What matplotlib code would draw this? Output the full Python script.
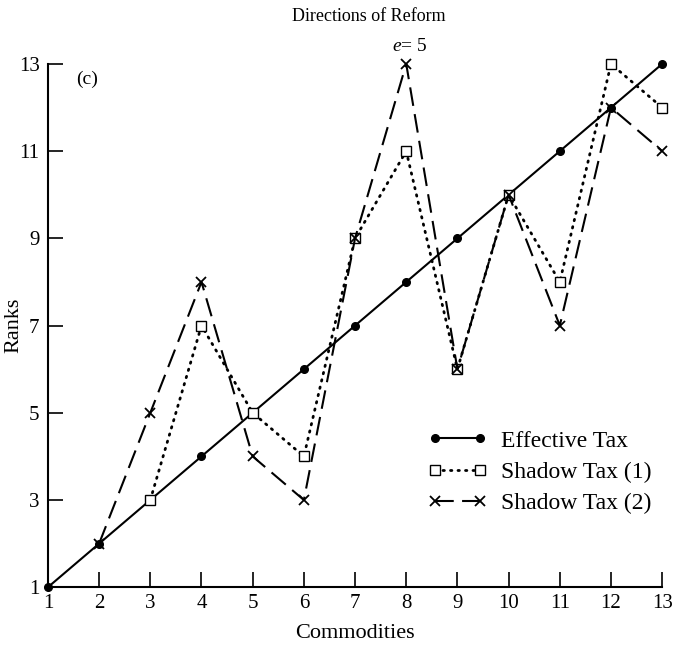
import matplotlib
matplotlib.use("Agg")
import matplotlib.pyplot as plt

commodities = list(range(1, 14))
effective_x = list(range(1, 14))
effective_tax = [1, 2, 3, 4, 5, 6, 7, 8, 9, 10, 11, 12, 13]
shadow1_x = [3, 4, 5, 6, 7, 8, 9, 10, 11, 12, 13]
shadow_tax_1 = [3, 7, 5, 4, 9, 11, 6, 10, 8, 13, 12]
shadow2_x = [2, 3, 4, 5, 6, 7, 8, 9, 10, 11, 12, 13]
shadow_tax_2 = [2, 5, 8, 4, 3, 9, 13, 6, 10, 7, 12, 11]
xticks = list(range(1, 14))
yticks = [1, 3, 5, 7, 9, 11, 13]

plt.rcParams['font.family'] = ['Liberation Serif', 'DejaVu Serif']
plt.rcParams['mathtext.fontset'] = 'custom'
plt.rcParams['mathtext.it'] = 'Liberation Serif:italic'
plt.rcParams['mathtext.rm'] = 'Liberation Serif'

fig = plt.figure(figsize=(6.75, 6.46), dpi=100)
ax = fig.add_axes([0.071, 0.091, 0.91, 0.81])

ax.plot(effective_x, effective_tax, color='black', lw=1.5, marker='o', ms=5.5,
        label='Effective Tax', clip_on=False, zorder=3)
ax.plot(shadow1_x, shadow_tax_1, color='black', lw=2.0, linestyle=(0, (0.5, 2.2)),
        dash_capstyle='round', marker='s', ms=7, mfc='white', mec='black', mew=1.0,
        label='Shadow Tax (1)', clip_on=False, zorder=4)
ax.plot(shadow2_x, shadow_tax_2, color='black', lw=1.5, linestyle=(0, (9, 4)),
        marker='x', ms=7, mew=1.3, label='Shadow Tax (2)', clip_on=False, zorder=5)

ax.set_xlim(1, 13)
ax.set_ylim(1, 13)
ax.set_xticks(xticks)
ax.set_yticks(yticks)
ax.spines['top'].set_visible(False)
ax.spines['right'].set_visible(False)
for s in ['left', 'bottom']:
    ax.spines[s].set_linewidth(1.5)
ax.tick_params(direction='in', length=11, width=1.2, labelsize=15)
ax.tick_params(axis='x', pad=5)
ax.tick_params(axis='y', pad=6)

ax.set_xlabel('Commodities', fontsize=16, labelpad=8)
ax.set_ylabel('Ranks', fontsize=16, va='center', ha='center')
ax.yaxis.set_label_coords(-0.056, 0.5)

fig.text(0.547, 0.975, 'Directions of Reform', ha='center', va='center', fontsize=13)
fig.text(0.607, 0.928, r'$e$= 5', ha='center', va='center', fontsize=14)
ax.text(1.55, 12.85, '(c)', fontsize=14, ha='left', va='top')

leg = ax.legend(loc='lower right', bbox_to_anchor=(0.99, 0.13), frameon=False,
                fontsize=17, numpoints=2, handlelength=2.5, handletextpad=0.6,
                labelspacing=0.42, borderpad=0.2, borderaxespad=0)

fig.savefig('out.png', dpi=100)
